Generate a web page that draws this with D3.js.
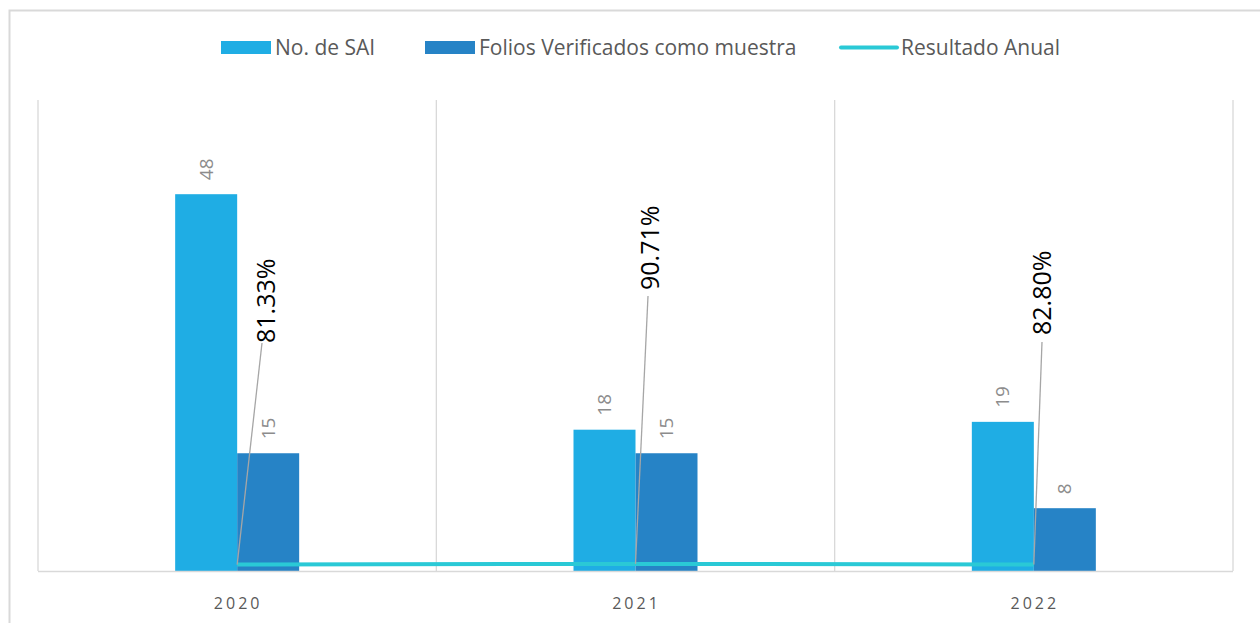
<!DOCTYPE html>
<html>
<head>
<meta charset="utf-8">
<script src="https://cdn.jsdelivr.net/npm/d3@7"></script>
<style>
  body { margin: 0; background: #fff; }
  svg { display: block; font-family: "Open Sans", "Noto Sans", sans-serif; }
</style>
</head>
<body>
<div id="container"></div>
<script>
// data
const years = ["2020", "2021", "2022"];
const noSAI = [48, 18, 19];
const folios = [15, 15, 8];
const resultado = [0.8133, 0.9071, 0.828];
const resultadoLabels = ["81.33%", "90.71%", "82.80%"];
const seriesNames = ["No. de SAI", "Folios Verificados como muestra", "Resultado Anual"];

let w = 1260;
let h = 623;
let padLeft = 38, padRight = 1233, padTop = 100, padBottom = 571;

let viz = d3.select("#container")
  .append("svg")
    .attr("width", w)
    .attr("height", h);

// outer frame of the chart
viz.append("path")
  .attr("d", `M9.5,${h + 5} V10.5 H${w + 5}`)
  .attr("fill", "none")
  .attr("stroke", "#d9d9d9")
  .attr("stroke-width", 2);

const x = d3.scaleBand()
  .domain(years)
  .range([padLeft, padRight]);

const yScale = d3.scaleLinear()
  .domain([0, 60])
  .range([padBottom, padTop]);

const barW = 62;

// vertical gridlines at category boundaries
const bounds = years.map(d => x(d)).concat([x(years[years.length - 1]) + x.bandwidth()]);
viz.append("g")
  .selectAll("line")
  .data(bounds)
  .enter()
  .append("line")
  .attr("x1", d => d)
  .attr("x2", d => d)
  .attr("y1", padTop)
  .attr("y2", padBottom)
  .attr("stroke", "#d9d9d9")
  .attr("stroke-width", 1.3);

const cx = d => x(d) + x.bandwidth() / 2;

// bars
viz.append("g")
  .selectAll("rect")
  .data(years)
  .enter()
  .append("rect")
  .attr("x", d => cx(d) - barW)
  .attr("y", (d, i) => yScale(noSAI[i]))
  .attr("width", barW)
  .attr("height", (d, i) => padBottom - yScale(noSAI[i]))
  .attr("fill", "#1fade4");

viz.append("g")
  .selectAll("rect")
  .data(years)
  .enter()
  .append("rect")
  .attr("x", d => cx(d))
  .attr("y", (d, i) => yScale(folios[i]))
  .attr("width", barW)
  .attr("height", (d, i) => padBottom - yScale(folios[i]))
  .attr("fill", "#2683c6");

// baseline
viz.append("line")
  .attr("x1", padLeft)
  .attr("x2", padRight)
  .attr("y1", padBottom + 0.5)
  .attr("y2", padBottom + 0.5)
  .attr("stroke", "#d9d9d9")
  .attr("stroke-width", 1.5);

// bar value labels (rotated)
function valueLabels(vals, offset) {
  viz.append("g")
    .selectAll("text")
    .data(years)
    .enter()
    .append("text")
    .attr("transform", (d, i) => `translate(${cx(d) + offset},${yScale(vals[i]) - 14}) rotate(-90)`)
    .attr("dy", "0.35em")
    .attr("fill", "#8c8c8c")
    .style("font-size", "19px")
    .text((d, i) => vals[i]);
}
valueLabels(noSAI, -barW / 2);
valueLabels(folios, barW / 2);

// result line
const line = d3.line()
  .x((d, i) => cx(years[i]))
  .y(d => yScale(d));

viz.append("path")
  .datum(resultado)
  .attr("fill", "none")
  .attr("stroke", "#2ac9d6")
  .attr("stroke-width", 4)
  .attr("d", line);

// percentage labels with leader lines
const labelPos = [[266, 343], [650, 290], [1042, 335]];
const leaderEnd = [[262, 343], [648, 296], [1042, 342]];

viz.append("g")
  .selectAll("line")
  .data(resultado)
  .enter()
  .append("line")
  .attr("x1", (d, i) => cx(years[i]))
  .attr("y1", d => yScale(d))
  .attr("x2", (d, i) => leaderEnd[i][0])
  .attr("y2", (d, i) => leaderEnd[i][1])
  .attr("stroke", "#a6a6a6")
  .attr("stroke-width", 1.3);

viz.append("g")
  .selectAll("text")
  .data(resultadoLabels)
  .enter()
  .append("text")
  .attr("transform", (d, i) => `translate(${labelPos[i][0]},${labelPos[i][1]}) rotate(-90)`)
  .attr("dy", "0.35em")
  .attr("fill", "#000")
  .style("font-size", "25px")
  .text(d => d);

// x axis labels
viz.append("g")
  .selectAll("text")
  .data(years)
  .enter()
  .append("text")
  .attr("x", d => cx(d) + 1)
  .attr("y", 609)
  .attr("text-anchor", "middle")
  .attr("fill", "#595959")
  .style("font-size", "16px")
  .style("letter-spacing", "3px")
  .text(d => d);

// legend
const legend = viz.append("g").attr("class", "legend");
const legendX = [221, 425, 841];
const colors = ["#1fade4", "#2683c6", "#2ac9d6"];

seriesNames.forEach((name, i) => {
  if (i < 2) {
    legend.append("rect")
      .attr("x", legendX[i])
      .attr("y", 41)
      .attr("width", 50)
      .attr("height", 13)
      .attr("fill", colors[i]);
  } else {
    legend.append("line")
      .attr("x1", legendX[i])
      .attr("x2", legendX[i] + 56)
      .attr("y1", 47.5)
      .attr("y2", 47.5)
      .attr("stroke", colors[i])
      .attr("stroke-width", 4)
      .attr("stroke-linecap", "round");
  }
  legend.append("text")
    .attr("x", legendX[i] + (i < 2 ? 54 : 60))
    .attr("y", 47.5)
    .attr("dy", "0.35em")
    .attr("fill", "#595959")
    .style("font-size", "21px")
    .text(name);
});
</script>
</body>
</html>
